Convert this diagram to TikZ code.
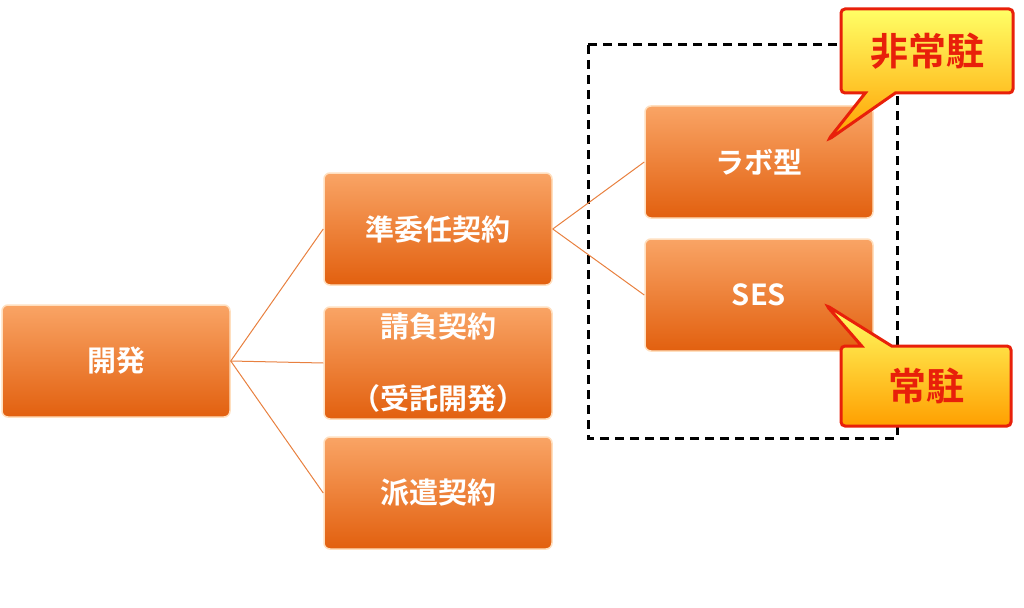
\documentclass[tikz,border=0pt]{standalone}
\usepackage{fontspec}
\newfontfamily\jp{Noto Sans CJK JP Bold}
\usetikzlibrary{shapes.callouts}
\definecolor{olight}{HTML}{F9A465}
\definecolor{odark}{HTML}{E2600F}
\definecolor{calred}{HTML}{E8200A}
\tikzset{
  obox/.style={draw=orange!25,line width=1.5pt,rounded corners=6pt,top color=olight,bottom color=odark,
    minimum width=228pt,minimum height=112pt,text=white,font=\jp\fontsize{29}{34}\selectfont,align=center},
  link/.style={draw=odark!80,line width=1pt},
  call/.style={rectangle callout,draw=calred,line width=3pt,rounded corners=4pt,top color=yellow!60,bottom color=orange!75!yellow,
    callout pointer width=30pt,text=calred,font=\jp\fontsize{38}{42}\selectfont}
}
\begin{document}
\begin{tikzpicture}[x=1pt,y=-1pt]
\useasboundingbox (0,0) rectangle (1024,607);
\node[obox] (dev) at (116,361) {開発};
\node[obox] (jun) at (438,229) {準委任契約};
\node[obox] (uke) at (438,363) {請負契約\\[38pt]（受託開発）};
\node[obox] (haken) at (438,493) {派遣契約};
\node[obox] (labo) at (759,162) {ラボ型};
\node[obox] (ses) at (759,295) {SES};
\draw[dashed,line width=3pt,dash pattern=on 9pt off 6pt] (588,45) rectangle (897,438);
\draw[link] (dev.east) -- (jun.west);
\draw[link] (dev.east) -- (uke.west);
\draw[link] (dev.east) -- (haken.west);
\draw[link] (jun.east) -- (labo.west);
\draw[link] (jun.east) -- (ses.west);
\coordinate (p1) at (828,140);
\coordinate (p2) at (826,305);
\node[call,minimum width=172pt,minimum height=84pt,callout absolute pointer={(p1)}] (c1) at (927,51) {非常駐};
\node[call,minimum width=170pt,minimum height=80pt,callout absolute pointer={(p2)}] (c2) at (926,386) {常駐};
\end{tikzpicture}
\end{document}
